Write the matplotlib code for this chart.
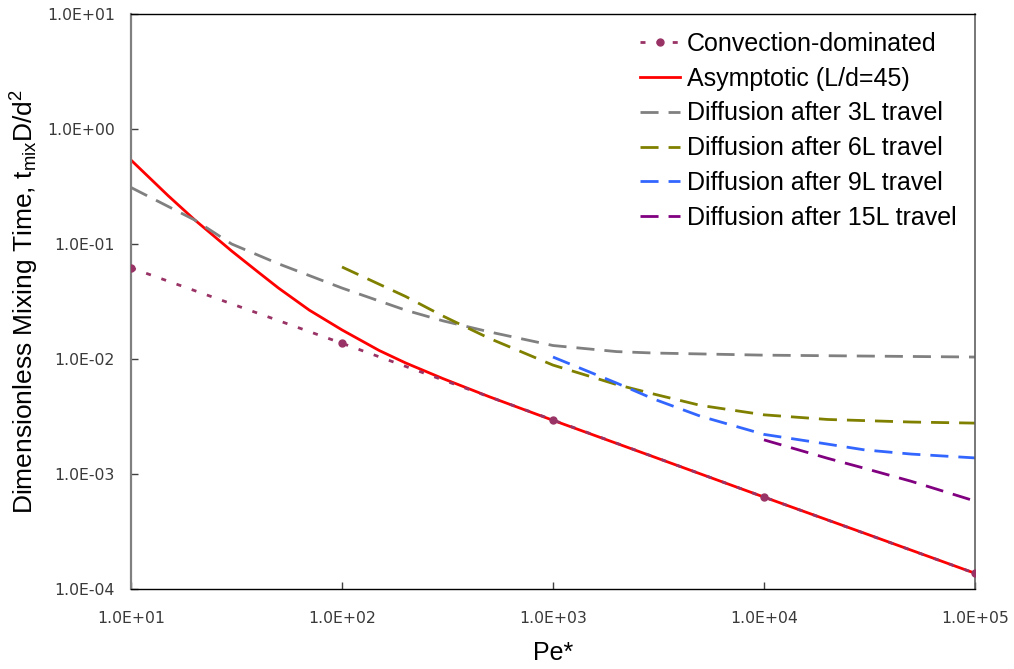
import matplotlib
matplotlib.use("Agg")
import matplotlib.pyplot as plt
from matplotlib.ticker import FixedLocator, FuncFormatter, NullLocator

plt.rcParams['font.family'] = ['Liberation Sans', 'DejaVu Sans']
plt.rcParams['mathtext.fontset'] = 'custom'
plt.rcParams['mathtext.rm'] = 'Liberation Sans'
plt.rcParams['mathtext.it'] = 'Liberation Sans'
plt.rcParams['mathtext.default'] = 'regular'

# Convection-dominated estimate
pe_conv = [10, 100, 1000, 10000, 100000]
t_conv = [0.062, 0.0137, 0.00295, 0.00063, 0.000137]

# Asymptotic solution (L/d = 45)
pe_asym = [10, 15, 20, 30, 40, 50, 70, 100, 150, 200, 300, 500, 1000,
           3000, 10000, 30000, 100000]
t_asym = [0.537, 0.263, 0.1626, 0.0869, 0.0571, 0.0414, 0.0266, 0.0179,
          0.01186, 0.00925, 0.00677, 0.00469, 0.00293, 0.00141, 0.00063,
          0.000305, 0.000137]

# Diffusion after 3L travel
pe_d3 = [10, 20, 30, 50, 100, 200, 300, 500, 1000, 2000, 3000, 10000, 100000]
t_d3 = [0.310, 0.162, 0.100, 0.0673, 0.0414, 0.0266, 0.0215, 0.0172,
        0.0131, 0.0116, 0.01127, 0.0108, 0.0104]

# Diffusion after 6L travel
pe_d6 = [100, 200, 300, 500, 1000, 2000, 3000, 5000, 10000, 20000, 50000, 100000]
t_d6 = [0.0631, 0.035, 0.0237, 0.0151, 0.00885, 0.0060, 0.00496, 0.00395,
        0.00327, 0.00298, 0.00283, 0.00277]

# Diffusion after 9L travel
pe_d9 = [1000, 2000, 3000, 5000, 10000, 20000, 30000, 50000, 100000]
t_d9 = [0.0104, 0.00618, 0.00449, 0.00318, 0.00221, 0.00182, 0.00162,
        0.00149, 0.00138]

# Diffusion after 15L travel
pe_d15 = [10000, 20000, 30000, 50000, 100000]
t_d15 = [0.00198, 0.00137, 0.00112, 0.000863, 0.000582]

x_ticks = [1e1, 1e2, 1e3, 1e4, 1e5]
y_ticks = [1e-4, 1e-3, 1e-2, 1e-1, 1e0, 1e1]

fig = plt.figure(figsize=(10.14, 6.69), dpi=100)
ax = fig.add_axes([131 / 1014, 80 / 669, 844 / 1014, 575 / 669])

lw = 2.0
dash = (6.5, 3.6)
ax.plot(pe_conv, t_conv, color='#993366', lw=lw, linestyle=(0, (1.8, 4.0)),
        marker='o', markersize=5, label='Convection-dominated', zorder=3)
ax.plot(pe_asym, t_asym, color='#FF0000', lw=lw, label='Asymptotic (L/d=45)', zorder=2)
ax.plot(pe_d3, t_d3, color='#808080', lw=lw, linestyle=(0, dash),
        label='Diffusion after 3L travel')
ax.plot(pe_d6, t_d6, color='#808000', lw=lw, linestyle=(0, dash),
        label='Diffusion after 6L travel')
ax.plot(pe_d9, t_d9, color='#3366FF', lw=lw, linestyle=(0, dash),
        label='Diffusion after 9L travel')
ax.plot(pe_d15, t_d15, color='#800080', lw=lw, linestyle=(0, dash),
        label='Diffusion after 15L travel')

ax.set_xscale('log')
ax.set_yscale('log')
ax.set_xlim(1e1, 1e5)
ax.set_ylim(1e-4, 1e1)

ax.xaxis.set_major_locator(FixedLocator(x_ticks))
ax.yaxis.set_major_locator(FixedLocator(y_ticks))
ax.xaxis.set_minor_locator(NullLocator())
ax.yaxis.set_minor_locator(NullLocator())
fmt = FuncFormatter(lambda v, p: f"{v:.1E}")
ax.xaxis.set_major_formatter(fmt)
ax.yaxis.set_major_formatter(fmt)

ax.tick_params(axis='x', direction='in', length=5, width=1, color='#404040',
               pad=16, labelsize=11.3, labelcolor='#3a3a3a')
ax.tick_params(axis='y', direction='in', length=5, width=1, color='#404040',
               pad=11.5, labelsize=11.3, labelcolor='#3a3a3a')
for lab in ax.get_xticklabels() + ax.get_yticklabels():
    lab.set_family('DejaVu Sans')

ax.spines['left'].set_color('#808080')
ax.spines['left'].set_linewidth(1.6)
ax.spines['right'].set_color('#606060')
ax.spines['right'].set_linewidth(1.2)
ax.spines['top'].set_color('black')
ax.spines['top'].set_linewidth(1.0)
ax.spines['bottom'].set_color('black')
ax.spines['bottom'].set_linewidth(1.0)

ax.set_xlabel('Pe*', fontsize=18)
ax.xaxis.set_label_coords(0.5, (589 - 641) / 575)
ax.set_ylabel('Dimensionless Mixing Time, t$_{mix}$D/d$^{2}$', fontsize=19)
ax.yaxis.set_label_coords((41 - 131) / 844, 0.5)

ax.legend(loc='upper left', bbox_to_anchor=(509 / 844, 1 - 18 / 575), frameon=False,
          fontsize=18, handlelength=1.6, handletextpad=0.28, labelspacing=0.43,
          borderpad=0, borderaxespad=0)

fig.savefig('out.png', dpi=100)
